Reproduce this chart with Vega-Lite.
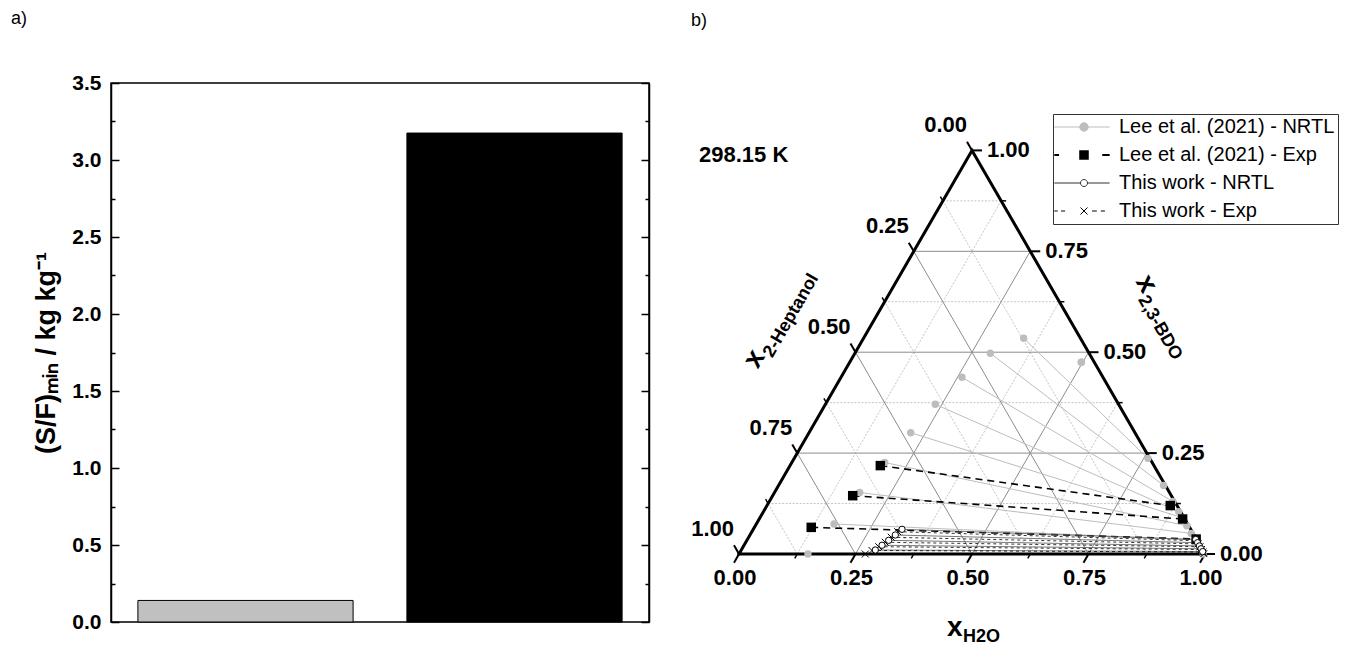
{
  "$schema": "https://vega.github.io/schema/vega-lite/v6.json",
  "padding": {"left": 10, "top": 9, "right": 5, "bottom": 5},
  "spacing": 34,
  "resolve": {"legend": {"shape": "independent", "fill": "independent"}},
  "config": {
    "font": "Liberation Sans",
    "view": {"stroke": "black", "strokeWidth": 1.5},
    "axis": {"labelColor": "black", "titleColor": "black", "domainColor": "black", "tickColor": "black"},
    "text": {"color": "black"}
  },
  "datasets": {
    "lee_nrtl": [
      {"X": 0.148, "B": 0.0, "Xa": 0.996, "Ba": 0.0},
      {"X": 0.2039, "B": 0.0743, "Xa": 0.9785, "Ba": 0.035},
      {"X": 0.259, "B": 0.1524, "Xa": 0.9705, "Ba": 0.051},
      {"X": 0.3127, "B": 0.2267, "Xa": 0.961, "Ba": 0.07},
      {"X": 0.3685, "B": 0.3005, "Xa": 0.951, "Ba": 0.09},
      {"X": 0.4212, "B": 0.3709, "Xa": 0.9435, "Ba": 0.105},
      {"X": 0.4785, "B": 0.4378, "Xa": 0.931, "Ba": 0.13},
      {"X": 0.5393, "B": 0.4973, "Xa": 0.911, "Ba": 0.17},
      {"X": 0.6109, "B": 0.5344, "Xa": 0.8775, "Ba": 0.237},
      {"X": 0.7346, "B": 0.475, "Xa": 0.7346, "Ba": 0.475}
    ],
    "lee_exp": [
      {"X": 0.3033, "B": 0.219, "Xa": 0.9255, "Ba": 0.12},
      {"X": 0.244, "B": 0.1445, "Xa": 0.952, "Ba": 0.0867},
      {"X": 0.155, "B": 0.066, "Xa": 0.981, "Ba": 0.037}
    ],
    "this_nrtl": [
      {"X": 0.3498, "B": 0.0612, "Xa": 0.98, "Ba": 0.036},
      {"X": 0.3354, "B": 0.0471, "Xa": 0.984, "Ba": 0.028},
      {"X": 0.3212, "B": 0.0339, "Xa": 0.988, "Ba": 0.02},
      {"X": 0.3069, "B": 0.0216, "Xa": 0.9915, "Ba": 0.013},
      {"X": 0.2925, "B": 0.0099, "Xa": 0.995, "Ba": 0.006}
    ],
    "this_exp": [
      {"X": 0.3406, "B": 0.0553, "Xa": 0.9815, "Ba": 0.033},
      {"X": 0.3268, "B": 0.0414, "Xa": 0.9855, "Ba": 0.025},
      {"X": 0.3139, "B": 0.029, "Xa": 0.989, "Ba": 0.018},
      {"X": 0.2998, "B": 0.0181, "Xa": 0.9925, "Ba": 0.011},
      {"X": 0.2854, "B": 0.0087, "Xa": 0.9955, "Ba": 0.005},
      {"X": 0.271, "B": 0.0, "Xa": 0.9975, "Ba": 0.001}
    ],
    "grid_major": [
      {"X": 0.125, "B": 0.25, "Xa": 0.875, "Ba": 0.25},
      {"X": 0.25, "B": 0, "Xa": 0.625, "Ba": 0.75},
      {"X": 0.75, "B": 0, "Xa": 0.375, "Ba": 0.75},
      {"X": 0.25, "B": 0.5, "Xa": 0.75, "Ba": 0.5},
      {"X": 0.5, "B": 0, "Xa": 0.75, "Ba": 0.5},
      {"X": 0.5, "B": 0, "Xa": 0.25, "Ba": 0.5},
      {"X": 0.375, "B": 0.75, "Xa": 0.625, "Ba": 0.75},
      {"X": 0.75, "B": 0, "Xa": 0.875, "Ba": 0.25},
      {"X": 0.25, "B": 0, "Xa": 0.125, "Ba": 0.25}
    ],
    "grid_minor": [
      {"X": 0.0625, "B": 0.125, "Xa": 0.9375, "Ba": 0.125},
      {"X": 0.125, "B": 0, "Xa": 0.5625, "Ba": 0.875},
      {"X": 0.875, "B": 0, "Xa": 0.4375, "Ba": 0.875},
      {"X": 0.1875, "B": 0.375, "Xa": 0.8125, "Ba": 0.375},
      {"X": 0.375, "B": 0, "Xa": 0.6875, "Ba": 0.625},
      {"X": 0.625, "B": 0, "Xa": 0.3125, "Ba": 0.625},
      {"X": 0.3125, "B": 0.625, "Xa": 0.6875, "Ba": 0.625},
      {"X": 0.625, "B": 0, "Xa": 0.8125, "Ba": 0.375},
      {"X": 0.375, "B": 0, "Xa": 0.1875, "Ba": 0.375},
      {"X": 0.4375, "B": 0.875, "Xa": 0.5625, "Ba": 0.875},
      {"X": 0.875, "B": 0, "Xa": 0.9375, "Ba": 0.125},
      {"X": 0.125, "B": 0, "Xa": 0.0625, "Ba": 0.125}
    ],
    "frame": [
      {"X": 0, "B": 0, "i": 0},
      {"X": 1, "B": 0, "i": 1},
      {"X": 0.5, "B": 1, "i": 2},
      {"X": 0, "B": 0, "i": 3}
    ],
    "ticks_major": [
      {"X": 0, "B": 0, "Xa": -0.01073, "Ba": -0.02146},
      {"X": 0.25, "B": 0, "Xa": 0.23927, "Ba": -0.02146},
      {"X": 0.5, "B": 0, "Xa": 0.48927, "Ba": -0.02146},
      {"X": 0.75, "B": 0, "Xa": 0.73927, "Ba": -0.02146},
      {"X": 1, "B": 0, "Xa": 0.98927, "Ba": -0.02146},
      {"X": 1, "B": 0, "Xa": 1.02146, "Ba": 0},
      {"X": 0.875, "B": 0.25, "Xa": 0.89646, "Ba": 0.25},
      {"X": 0.75, "B": 0.5, "Xa": 0.77146, "Ba": 0.5},
      {"X": 0.625, "B": 0.75, "Xa": 0.64646, "Ba": 0.75},
      {"X": 0.5, "B": 1, "Xa": 0.52146, "Ba": 1},
      {"X": 0.5, "B": 1, "Xa": 0.48927, "Ba": 1.02146},
      {"X": 0.375, "B": 0.75, "Xa": 0.36427, "Ba": 0.77146},
      {"X": 0.25, "B": 0.5, "Xa": 0.23927, "Ba": 0.52146},
      {"X": 0.125, "B": 0.25, "Xa": 0.11427, "Ba": 0.27146},
      {"X": 0, "B": 0, "Xa": -0.01073, "Ba": 0.02146}
    ],
    "ticks_minor": [
      {"X": 0.125, "B": 0, "Xa": 0.11964, "Ba": -0.01073},
      {"X": 0.375, "B": 0, "Xa": 0.36964, "Ba": -0.01073},
      {"X": 0.625, "B": 0, "Xa": 0.61964, "Ba": -0.01073},
      {"X": 0.875, "B": 0, "Xa": 0.86964, "Ba": -0.01073},
      {"X": 0.9375, "B": 0.125, "Xa": 0.94823, "Ba": 0.125},
      {"X": 0.8125, "B": 0.375, "Xa": 0.82323, "Ba": 0.375},
      {"X": 0.6875, "B": 0.625, "Xa": 0.69823, "Ba": 0.625},
      {"X": 0.5625, "B": 0.875, "Xa": 0.57323, "Ba": 0.875},
      {"X": 0.4375, "B": 0.875, "Xa": 0.43214, "Ba": 0.88573},
      {"X": 0.3125, "B": 0.625, "Xa": 0.30714, "Ba": 0.63573},
      {"X": 0.1875, "B": 0.375, "Xa": 0.18214, "Ba": 0.38573},
      {"X": 0.0625, "B": 0.125, "Xa": 0.05714, "Ba": 0.13573}
    ],
    "lab_bottom": [
      {"X": 0, "B": 0, "t": "0.00"},
      {"X": 0.25, "B": 0, "t": "0.25"},
      {"X": 0.5, "B": 0, "t": "0.50"},
      {"X": 0.75, "B": 0, "t": "0.75"},
      {"X": 1, "B": 0, "t": "1.00"}
    ],
    "lab_right": [
      {"X": 1, "B": 0, "t": "0.00"},
      {"X": 0.875, "B": 0.25, "t": "0.25"},
      {"X": 0.75, "B": 0.5, "t": "0.50"},
      {"X": 0.625, "B": 0.75, "t": "0.75"},
      {"X": 0.5, "B": 1, "t": "1.00"}
    ],
    "lab_left": [
      {"X": 0.5, "B": 1, "t": "0.00"},
      {"X": 0.375, "B": 0.75, "t": "0.25"},
      {"X": 0.25, "B": 0.5, "t": "0.50"},
      {"X": 0.125, "B": 0.25, "t": "0.75"},
      {"X": 0, "B": 0, "t": "1.00"}
    ]
  },
  "hconcat": [
    {
      "title": {"text": "a)", "anchor": "start", "frame": "group", "dx": -100, "offset": 44, "fontSize": 18, "fontWeight": "normal", "color": "black"},
      "width": 538,
      "height": 539,
      "data": {"values": [{"study": "Lee et al. (2021)", "sf": 0.14}, {"study": "This work", "sf": 3.175}]},
      "layer": [
        {
          "mark": {"type": "bar", "stroke": "black", "strokeWidth": 1},
          "encoding": {
            "x": {"field": "study", "type": "nominal", "sort": null, "scale": {"paddingInner": 0.2, "paddingOuter": 0.1},
              "axis": {"title": null, "labelAngle": 0, "ticks": false, "labelFontSize": 21, "labelFontWeight": "bold", "labelPadding": 12, "domainWidth": 1.5}},
            "y": {"field": "sf", "type": "quantitative", "scale": {"domain": [0, 3.5], "nice": false},
              "axis": {"title": "(S/F)ₘᵢₙ / kg kg⁻¹", "titleFontSize": 27, "titleFontWeight": "bold", "titlePadding": 11,
                "values": [0, 0.25, 0.5, 0.75, 1, 1.25, 1.5, 1.75, 2, 2.25, 2.5, 2.75, 3, 3.25, 3.5],
                "labelExpr": "datum.value % 0.5 === 0 ? format(datum.value, '.1f') : ''",
                "labelOverlap": false, "labelFontSize": 21, "labelFontWeight": "bold", "labelPadding": 18,
                "tickSize": {"condition": {"test": "datum.value % 0.5 === 0", "value": -8}, "value": -4},
                "tickWidth": 1.5, "domainWidth": 1.5, "grid": false}},
            "fill": {"field": "study", "type": "nominal", "scale": {"domain": ["Lee et al. (2021)", "This work"], "range": ["#c0c0c0", "#000000"]}, "legend": null}
          }
        },
        {
          "mark": {"type": "bar", "opacity": 0},
          "encoding": {
            "x": {"field": "study", "type": "nominal", "sort": null, "axis": null},
            "y": {"field": "sf", "type": "quantitative",
              "axis": {"orient": "right", "title": null, "labels": false,
                "values": [0, 0.25, 0.5, 0.75, 1, 1.25, 1.5, 1.75, 2, 2.25, 2.5, 2.75, 3, 3.25, 3.5],
                "tickSize": {"condition": {"test": "datum.value % 0.5 === 0", "value": -8}, "value": -4},
                "tickWidth": 1.5, "domainWidth": 1.5, "grid": false}}
          }
        }
      ],
      "resolve": {"axis": {"y": "independent"}}
    },
    {
      "title": {"text": "b)", "anchor": "start", "frame": "group", "dx": 6, "offset": 53, "fontSize": 18, "fontWeight": "normal", "color": "black"},
      "width": 647,
      "height": 567,
      "view": {"stroke": null},
      "encoding": {
        "x": {"field": "X", "type": "quantitative", "scale": {"domain": [-0.11588, 1.27253], "nice": false, "zero": false}, "axis": null},
        "y": {"field": "B", "type": "quantitative", "scale": {"domain": [-0.23786, 1.167], "nice": false, "zero": false}, "axis": null}
      },
      "layer": [
        {"data": {"name": "grid_minor"}, "mark": {"type": "rule", "color": "#c4c4c4", "strokeWidth": 1, "strokeDash": [2, 1.5]},
          "encoding": {"x2": {"field": "Xa"}, "y2": {"field": "Ba"}}},
        {"data": {"name": "grid_major"}, "mark": {"type": "rule", "color": "#8c8c8c", "strokeWidth": 1},
          "encoding": {"x2": {"field": "Xa"}, "y2": {"field": "Ba"}}},
        {"data": {"name": "lee_nrtl"}, "mark": {"type": "rule", "color": "#bdbdbd", "strokeWidth": 1},
          "encoding": {"x2": {"field": "Xa"}, "y2": {"field": "Ba"}}},
        {"data": {"name": "lee_exp"}, "mark": {"type": "rule", "color": "black", "strokeWidth": 1.6, "strokeDash": [7, 5]},
          "encoding": {"x2": {"field": "Xa"}, "y2": {"field": "Ba"}}},
        {"data": {"name": "this_nrtl"}, "mark": {"type": "rule", "color": "#555555", "strokeWidth": 0.8},
          "encoding": {"x2": {"field": "Xa"}, "y2": {"field": "Ba"}}},
        {"data": {"name": "this_exp"}, "mark": {"type": "rule", "color": "black", "strokeWidth": 0.8, "strokeDash": [3, 3]},
          "encoding": {"x2": {"field": "Xa"}, "y2": {"field": "Ba"}}},
        {"data": {"name": "frame"}, "mark": {"type": "line", "color": "black", "strokeWidth": 3, "strokeCap": "square", "strokeJoin": "miter"},
          "encoding": {"order": {"field": "i", "type": "quantitative"}}},
        {"data": {"name": "ticks_major"}, "mark": {"type": "rule", "color": "black", "strokeWidth": 2},
          "encoding": {"x2": {"field": "Xa"}, "y2": {"field": "Ba"}}},
        {"data": {"name": "ticks_minor"}, "mark": {"type": "rule", "color": "black", "strokeWidth": 1.5},
          "encoding": {"x2": {"field": "Xa"}, "y2": {"field": "Ba"}}},
        {"data": {"name": "lee_nrtl"}, "mark": {"type": "circle", "size": 55, "color": "#bdbdbd", "opacity": 1}, "encoding": {}},
        {"data": {"name": "lee_nrtl"}, "mark": {"type": "circle", "size": 55, "color": "#bdbdbd", "opacity": 1},
          "encoding": {"x": {"field": "Xa", "type": "quantitative", "axis": null}, "y": {"field": "Ba", "type": "quantitative", "axis": null}}},
        {"data": {"name": "lee_exp"}, "mark": {"type": "square", "size": 90, "color": "black", "opacity": 1}, "encoding": {}},
        {"data": {"name": "lee_exp"}, "mark": {"type": "square", "size": 90, "color": "black", "opacity": 1},
          "encoding": {"x": {"field": "Xa", "type": "quantitative", "axis": null}, "y": {"field": "Ba", "type": "quantitative", "axis": null}}},
        {"data": {"name": "this_exp"}, "mark": {"type": "point", "shape": "M-1,-1L1,1M-1,1L1,-1", "size": 49, "stroke": "black", "strokeWidth": 1, "filled": false, "opacity": 1}, "encoding": {}},
        {"data": {"name": "this_exp"}, "mark": {"type": "point", "shape": "M-1,-1L1,1M-1,1L1,-1", "size": 49, "stroke": "black", "strokeWidth": 1, "filled": false, "opacity": 1},
          "encoding": {"x": {"field": "Xa", "type": "quantitative", "axis": null}, "y": {"field": "Ba", "type": "quantitative", "axis": null}}},
        {"data": {"name": "this_nrtl"}, "mark": {"type": "point", "shape": "circle", "size": 40, "fill": "white", "filled": true, "stroke": "black", "strokeWidth": 1, "opacity": 1}, "encoding": {}},
        {"data": {"name": "this_nrtl"}, "mark": {"type": "point", "shape": "circle", "size": 40, "fill": "white", "filled": true, "stroke": "black", "strokeWidth": 1, "opacity": 1},
          "encoding": {"x": {"field": "Xa", "type": "quantitative", "axis": null}, "y": {"field": "Ba", "type": "quantitative", "axis": null}}},
        {"data": {"name": "lab_bottom"}, "mark": {"type": "text", "fontSize": 22, "fontWeight": "bold", "align": "center", "baseline": "middle", "dx": -4, "dy": 24},
          "encoding": {"text": {"field": "t"}}},
        {"data": {"name": "lab_right"}, "mark": {"type": "text", "fontSize": 22, "fontWeight": "bold", "align": "left", "baseline": "middle", "dx": 15, "dy": 0},
          "encoding": {"text": {"field": "t"}}},
        {"data": {"name": "lab_left"}, "mark": {"type": "text", "fontSize": 22, "fontWeight": "bold", "align": "right", "baseline": "middle", "dx": -5, "dy": -25},
          "encoding": {"text": {"field": "t"}}},
        {"data": {"values": [{"X": 0.25, "B": 0.5}]}, "mark": {"type": "text", "text": "x", "angle": 300, "fontSize": 28, "fontWeight": "bold", "align": "left", "baseline": "alphabetic", "dx": -64, "dy": -76}, "encoding": {}},
        {"data": {"values": [{"X": 0.25, "B": 0.5}]}, "mark": {"type": "text", "text": "2-Heptanol", "angle": 300, "fontSize": 18, "fontWeight": "bold", "align": "left", "baseline": "alphabetic", "dx": -47, "dy": -69}, "encoding": {}},
        {"data": {"values": [{"X": 0.75, "B": 0.5}]}, "mark": {"type": "text", "text": "x", "angle": 60, "fontSize": 28, "fontWeight": "bold", "align": "left", "baseline": "alphabetic", "dx": -38, "dy": -76}, "encoding": {}},
        {"data": {"values": [{"X": 0.75, "B": 0.5}]}, "mark": {"type": "text", "text": "2,3-BDO", "angle": 60, "fontSize": 18, "fontWeight": "bold", "align": "left", "baseline": "alphabetic", "dx": -21, "dy": -69}, "encoding": {}},
        {"data": {"values": [{"X": 0.5, "B": 0}]}, "mark": {"type": "text", "text": "x", "fontSize": 28, "fontWeight": "bold", "align": "left", "baseline": "alphabetic", "dx": -25, "dy": 82}, "encoding": {}},
        {"data": {"values": [{"X": 0.5, "B": 0}]}, "mark": {"type": "text", "text": "H2O", "fontSize": 18, "fontWeight": "bold", "align": "left", "baseline": "alphabetic", "dx": -9, "dy": 88}, "encoding": {}},
        {"data": {"values": [{"X": -0.0858, "B": 0.9874}]}, "mark": {"type": "text", "text": "298.15 K", "fontSize": 22, "fontWeight": "bold", "align": "left", "baseline": "middle"}, "encoding": {}},
        {
          "data": {"name": "lee_exp"},
          "transform": [{"filter": "false"}],
          "mark": {"type": "point", "filled": true, "opacity": 1},
          "encoding": {
            "shape": {"field": "series", "type": "nominal",
              "scale": {"domain": ["Lee et al. (2021) - NRTL", "Lee et al. (2021) - Exp", "This work - NRTL", "This work - Exp"],
                "range": [
                  "M-2.2,0L1.9,0M-0.31,0A0.31,0.31,0,1,1,0.31,0A0.31,0.31,0,1,1,-0.31,0Z",
                  "M-2.2,0L-1.85,0M1.35,0L1.9,0M-0.28,-0.28L0.28,-0.28L0.28,0.28L-0.28,0.28Z",
                  "M-2.2,0L-0.26,0M0.26,0L1.9,0M-0.26,0A0.26,0.26,0,1,1,0.26,0A0.26,0.26,0,1,1,-0.26,0Z",
                  "M-2.2,0L-1.95,0M-1.7,0L-1.4,0M0.6,0L0.95,0M1.25,0L1.55,0M-0.26,-0.26L0.26,0.26M-0.26,0.26L0.26,-0.26"
                ]},
              "legend": {"orient": "none", "legendX": 368, "legendY": 31, "title": null, "padding": 3, "strokeColor": "#333333", "fillColor": "white",
                "rowPadding": 8, "symbolOffset": 18, "labelOffset": 25, "labelFontSize": 20, "labelFont": "Liberation Sans", "labelColor": "black",
                "labelLimit": 400, "symbolSize": 729,
                "encoding": {"symbols": {
                  "fill": {"value": {"expr": "datum.value === 'Lee et al. (2021) - NRTL' ? '#bdbdbd' : datum.value === 'Lee et al. (2021) - Exp' ? '#000000' : datum.value === 'This work - NRTL' ? '#ffffff' : 'transparent'"}},
                  "stroke": {"value": {"expr": "datum.value === 'Lee et al. (2021) - NRTL' ? '#bdbdbd' : datum.value === 'This work - NRTL' ? '#333333' : '#000000'"}},
                  "strokeWidth": {"value": {"expr": "datum.value === 'Lee et al. (2021) - Exp' ? 2 : 1"}},
                  "opacity": {"value": 1}
                }}}}
          }
        }
      ]
    }
  ]
}
